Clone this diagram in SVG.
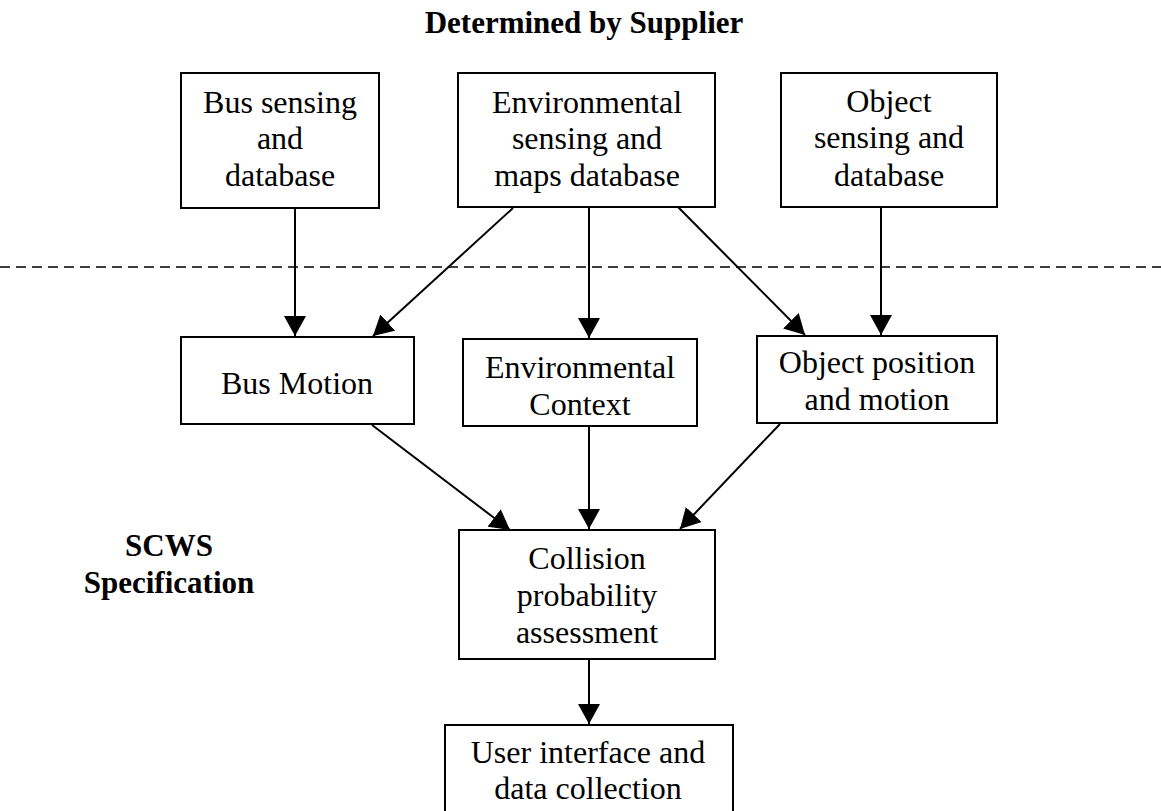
<svg xmlns="http://www.w3.org/2000/svg" width="1161" height="811" viewBox="0 0 1161 811">
<defs>
<style>
.box{fill:#fff;stroke:#000;stroke-width:2}
.t{font-family:"Liberation Serif","Times New Roman",serif;font-size:32px;fill:#000;text-anchor:middle}
.b{font-family:"Liberation Serif","Times New Roman",serif;font-size:31px;font-weight:bold;fill:#000;text-anchor:middle}
.c{stroke:#000;stroke-width:2;fill:none;marker-end:url(#ah)}
</style>
<marker id="ah" markerUnits="userSpaceOnUse" markerWidth="20" markerHeight="22" viewBox="0 0 20 22" refX="20" refY="11" orient="auto">
<path d="M0,0 L20,11 L0,22 z" fill="#000"/>
</marker>
</defs>
<rect width="1161" height="811" fill="#fff"/>
<text class="b" x="584" y="33">Determined by Supplier</text>
<g id="scws"><text class="b" x="169" y="556">SCWS</text><text class="b" x="169" y="593">Specification</text></g>
<line x1="0" y1="267" x2="1161" y2="267" stroke="#000" stroke-width="1.5" stroke-dasharray="10,6"/>
<g id="bus-sensing"><rect class="box" x="181" y="73" width="198" height="135"/>
<text class="t" x="280" y="113">Bus sensing</text><text class="t" x="280" y="149">and</text><text class="t" x="280" y="186">database</text></g>
<g id="env-sensing"><rect class="box" x="458" y="73" width="257" height="134"/>
<text class="t" x="587" y="113">Environmental</text><text class="t" x="587" y="149">sensing and</text><text class="t" x="587" y="186">maps database</text></g>
<g id="obj-sensing"><rect class="box" x="781" y="73" width="216" height="134"/>
<text class="t" x="889" y="112">Object</text><text class="t" x="889" y="148">sensing and</text><text class="t" x="889" y="186">database</text></g>
<g id="bus-motion"><rect class="box" x="181" y="337" width="233" height="87"/>
<text class="t" x="297" y="394">Bus Motion</text></g>
<g id="env-context"><rect class="box" x="463" y="339" width="234" height="87"/>
<text class="t" x="580" y="378">Environmental</text><text class="t" x="580" y="415">Context</text></g>
<g id="obj-position"><rect class="box" x="757" y="336" width="240" height="87"/>
<text class="t" x="877" y="373">Object position</text><text class="t" x="877" y="410">and motion</text></g>
<g id="collision"><rect class="box" x="459" y="530" width="256" height="129"/>
<text class="t" x="587" y="569">Collision</text><text class="t" x="587" y="606">probability</text><text class="t" x="587" y="643">assessment</text></g>
<g id="user-interface"><rect class="box" x="445" y="725" width="288" height="100"/>
<text class="t" x="588" y="763">User interface and</text><text class="t" x="588" y="799">data collection</text></g>
<g id="connectors">
<line class="c" x1="295" y1="208" x2="295" y2="336"/>
<line class="c" x1="513" y1="208" x2="373" y2="336"/>
<line class="c" x1="589" y1="208" x2="589" y2="338"/>
<line class="c" x1="678" y1="207" x2="805" y2="335"/>
<line class="c" x1="881" y1="207" x2="881" y2="335"/>
<line class="c" x1="372" y1="425" x2="510" y2="530"/>
<line class="c" x1="589" y1="426" x2="589" y2="529"/>
<line class="c" x1="780" y1="424" x2="680" y2="529"/>
<line class="c" x1="589" y1="659" x2="589" y2="724"/>
</g>
</svg>
